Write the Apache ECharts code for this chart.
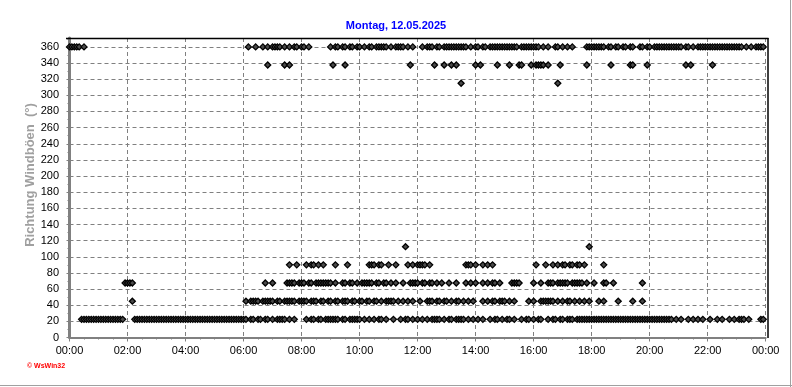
<!DOCTYPE html>
<html><head><meta charset="utf-8">
<script src="https://cdn.jsdelivr.net/npm/echarts@6/dist/echarts.min.js"></script>
<style>html,body{margin:0;padding:0;background:#fff}#c{width:792px;height:387px}</style>
</head><body><div id="c"></div>
<script>
const chartTitle = 'Montag, 12.05.2025';
const yAxisTitle = 'Richtung Windböen  (°)';
const creditText = '\u00a9 WsWin32';
const xTickLabels = ['00:00','02:00','04:00','06:00','08:00','10:00','12:00','14:00','16:00','18:00','20:00','22:00','00:00'];
const slotMinutes = 5; // reading resolution: each slot index = 5 minutes after midnight

// direction values (degrees) and the 5-minute slots in which a gust of that direction was plotted
const dirs = [360, 337.5, 315, 112.5, 90, 67.5, 45, 22.5];
const slots360 = [0,1,2,3,4,6,74,77,80,82,84,85,86,87,89,91,93,94,96,97,99,108,110,111,113,114,116,117,119,120,122,124,125,127,128,129,130,131,133,135,136,137,138,140,142,146,148,149,150,152,153,155,156,157,158,159,160,161,162,163,164,166,168,169,171,172,174,175,176,177,178,179,180,181,182,183,184,185,187,188,189,190,191,192,193,194,196,198,201,202,204,206,208,214,215,216,217,218,219,220,221,223,224,226,227,229,230,232,233,236,237,239,240,242,243,244,245,246,247,248,249,250,251,252,253,255,256,258,260,261,262,263,264,265,266,267,268,269,270,271,272,273,274,275,276,277,278,280,282,284,285,286,287];
const slots337 = [82,89,91,109,114,141,151,155,158,160,168,170,177,182,186,187,191,193,194,195,196,198,203,214,224,232,233,239,255,257,266];
const slots315 = [162,202];
const slots112 = [139,215];
const slots90 = [91,94,98,100,101,103,105,110,115,124,125,126,128,129,132,135,140,142,144,145,146,147,149,164,165,166,168,171,173,175,193,197,200,202,204,205,207,208,210,211,213,221];
const slots67 = [23,24,25,26,81,84,90,91,92,93,95,96,97,99,100,102,103,104,105,106,107,108,110,113,114,116,117,119,121,122,123,124,125,127,128,130,131,133,135,138,141,142,143,144,146,147,149,150,152,154,157,160,164,166,168,171,173,175,176,178,183,184,185,186,192,195,198,199,200,202,203,204,205,206,208,209,210,211,212,214,217,221,222,225,237];
const slots45 = [26,73,75,76,77,78,80,81,82,83,84,86,87,89,90,91,92,93,95,96,97,98,100,101,102,104,105,107,108,110,111,113,114,115,117,118,120,121,123,124,126,127,129,131,132,133,134,136,138,140,142,145,148,149,150,152,153,155,156,158,160,161,163,165,167,171,173,175,176,178,179,180,182,184,190,192,195,196,197,198,199,200,202,204,206,207,209,211,213,215,219,221,227,233,237];
const slots22 = [5,6,7,8,9,10,11,12,13,14,15,16,17,18,19,20,21,22,27,28,29,30,31,32,33,34,35,36,37,38,39,40,41,42,43,44,45,46,47,48,49,50,51,52,53,54,55,56,57,58,59,60,61,62,63,64,65,66,67,68,69,70,71,72,73,75,76,78,79,81,82,84,86,87,88,89,91,93,98,100,101,103,104,106,107,108,109,110,111,113,114,116,117,118,119,120,122,124,126,128,129,131,134,137,139,140,142,144,146,148,150,151,152,153,155,157,158,160,161,162,163,165,167,169,171,174,176,177,179,181,182,184,187,189,190,192,194,195,198,200,201,203,204,206,207,208,210,211,212,213,214,215,216,217,218,219,220,221,222,223,224,225,226,227,228,229,230,231,232,233,234,235,236,237,238,239,240,241,242,243,244,245,246,247,248,249,251,253,256,258,260,262,265,268,270,273,275,277,278,279,281,286,287];
const slotLists = [slots360, slots337, slots315, slots112, slots90, slots67, slots45, slots22];

const data = [];
slotLists.forEach((list, i) => list.forEach(s => data.push([s * slotMinutes / 60, dirs[i]])));

const chart = echarts.init(document.getElementById('c'), null, {renderer: 'canvas'});
const font = 'Liberation Sans, Arial, sans-serif';
chart.setOption({
  animation: false,
  backgroundColor: '#ffffff',
  title: {
    text: chartTitle, left: 'center', top: 15,
    textStyle: {color: '#0000ff', fontWeight: 'bold', fontSize: 11, fontFamily: font}
  },
  grid: {left: 69.5, right: 26.3, top: 38, bottom: 49.5, containLabel: false},
  xAxis: {
    type: 'value', min: 0, max: 24, interval: 2,
    axisLine: {show: true, onZero: false, lineStyle: {color: '#808080', width: 2}},
    axisTick: {show: true, length: 4, lineStyle: {color: '#808080'}},
    minorTick: {show: true, splitNumber: 4, length: 2, lineStyle: {color: '#808080'}},
    axisLabel: {
      color: '#000', fontSize: 11, fontFamily: font, margin: 8,
      formatter: v => {
        const k = Math.round(v / 2);
        return Math.abs(v - 2 * k) < 1e-6 ? xTickLabels[k] : '';
      }
    },
    splitLine: {show: true, lineStyle: {color: '#808080', width: 1, type: [4, 3]}}
  },
  yAxis: {
    type: 'value', min: 0, max: 371, interval: 20, offset: 3.5,
    axisLine: {show: true, lineStyle: {color: '#808080', width: 3}},
    axisTick: {show: true, length: 3, lineStyle: {color: '#808080'}},
    minorTick: {show: true, splitNumber: 2, length: 2, lineStyle: {color: '#808080'}},
    axisLabel: {
      color: '#000', fontSize: 11, fontFamily: font, margin: 7, showMaxLabel: true,
      formatter: v => (Math.abs(v % 20) < 1e-6 ? String(v) : '')
    },
    splitLine: {show: true, lineStyle: {color: '#808080', width: 1, type: [4, 3]}}
  },
  series: [{
    type: 'scatter',
    data: data,
    symbol: 'diamond',
    symbolSize: 6,
    itemStyle: {color: '#4a4a4a', borderColor: '#000', borderWidth: 1.3, opacity: 1},
    silent: true,
    z: 3
  }],
  graphic: [
    {type: 'line', shape: {x1: 66, y1: 38.5, x2: 768.5, y2: 38.5}, style: {stroke: '#000', lineWidth: 1.5}, z: 10},
    {type: 'line', shape: {x1: 768, y1: 38, x2: 768, y2: 338}, style: {stroke: '#000', lineWidth: 1.5}, z: 10},
    {type: 'line', shape: {x1: 790.5, y1: 0, x2: 790.5, y2: 387}, style: {stroke: '#a0a0a0', lineWidth: 1}, z: 10},
    {type: 'line', shape: {x1: 0, y1: 385.5, x2: 792, y2: 385.5}, style: {stroke: '#a0a0a0', lineWidth: 1}, z: 10},
    {type: 'text', x: 30, y: 175, rotation: Math.PI / 2,
      style: {text: yAxisTitle, fill: '#a0a0a0', font: 'bold 13px Liberation Sans, Arial, sans-serif', textAlign: 'center', textVerticalAlign: 'middle'}, z: 10},
    {type: 'text', x: 27, y: 363,
      style: {text: creditText, fill: '#ff0000', font: 'bold 7px Liberation Sans, Arial, sans-serif', textAlign: 'left', textVerticalAlign: 'top'}, z: 10}
  ]
});
</script>
</body></html>
